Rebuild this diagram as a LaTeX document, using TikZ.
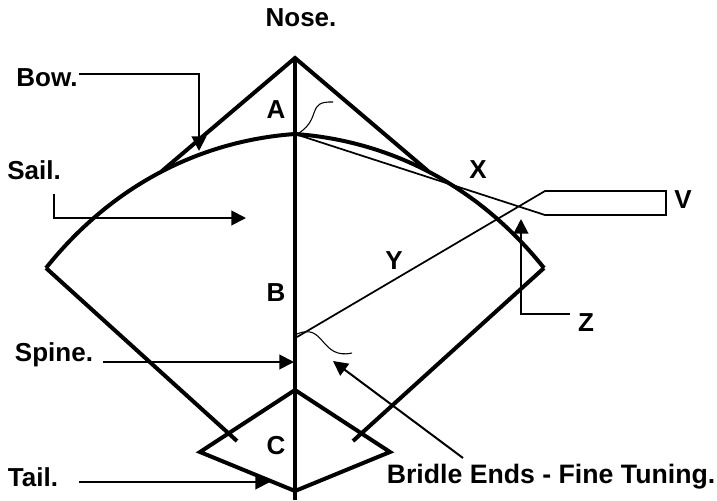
\documentclass[tikz,border=0pt]{standalone}
\usepackage{fontspec}
\setmainfont{Liberation Sans}
\usetikzlibrary{arrows.meta,positioning,calc}
\tikzset{
  kiteline/.style={line width=3pt, line join=miter},
  thinline/.style={line width=1.3pt},
  wisp/.style={line width=0.8pt},
  leader/.style={line width=1.5pt, -{Triangle[length=11pt,width=11pt]}},
  lbl/.style={font=\bfseries\fontsize{19.5}{21}\selectfont, inner sep=0pt},
  endslbl/.style={font=\bfseries\fontsize{20}{22}\selectfont, inner sep=0pt}
}
\begin{document}
\begin{tikzpicture}[x=0.75pt,y=-0.75pt]
\useasboundingbox (0,0) rectangle (717,500);
% labels
\node[lbl] (nose) at (301,18) {Nose.};
\node[lbl] (bow) at (47,78) {Bow.};
\node[lbl] (sail) at (34,170) {Sail.};
\node[lbl] (spine) at (54,355) {Spine.};
\node[lbl] (tail) at (33,477) {Tail.};
\node[lbl] (a) at (276,110) {A};
\node[lbl] (b) at (276,293) {B};
\node[lbl] (c) at (276,446) {C};
\node[lbl] (x) at (478,170) {X};
\node[lbl] (v) at (683,200) {V};
\node[lbl] (y) at (394,261) {Y};
\node[lbl] (z) at (586,323) {Z};
\node[endslbl] (ends) at (551,477) {Bridle Ends - Fine Tuning.};
% kite
\coordinate (top) at (295,58);
\coordinate (lft) at (46,268);
\coordinate (rgt) at (544,268);
\coordinate (lowl) at (237,441);
\coordinate (lowr) at (353,441);
\coordinate (mid) at (295,134);
\coordinate (shl) at (162,171);
\coordinate (shr) at (428,171);
\coordinate (tc) at (295,390);
\coordinate (tl) at (200,452);
\coordinate (tr) at (390,452);
\coordinate (tb) at (295,491);
\coordinate (foot) at (295,500);
\draw[kiteline] (shl)--(top)--(shr);
\draw[kiteline] (lowl)--(lft);
\draw[kiteline] (rgt)--(lowr);
\draw[kiteline] (top)--(foot);
\draw[kiteline] (tc)--(tl)--(tb)--(tr)--cycle;
\draw[kiteline] (lft) .. controls (118,178) and (210,140) .. (mid) .. controls (380,140) and (472,178) .. (rgt);
% bridle
\coordinate (vt) at (545,191);
\coordinate (vb) at (545,215);
\coordinate (vr) at (666,191);
\coordinate (vs) at (666,215);
\coordinate (ylow) at (297,337);
\draw[thinline] (mid)--(vb)--(vs)--(vr)--(vt)--(ylow);
\draw[wisp] (299,133) .. controls (322,118) and (306,101) .. (333,102);
\draw[wisp] (297,334) .. controls (325,322) and (320,360) .. (352,353);
% leaders
\coordinate (bowstart) at (79,74);
\draw[leader] (bowstart) -- (199,74) -- (199,151);
\draw[leader] (54,194) -- (54,218) -- (246,218);
\draw[leader] (103,362) -- (294,362);
\draw[leader] (79,482) -- (270,482);
\draw[leader] (463,458) -- (333,361);
\draw[leader] (570,314) -- (521,314) -- (521,219);
\end{tikzpicture}
\end{document}
